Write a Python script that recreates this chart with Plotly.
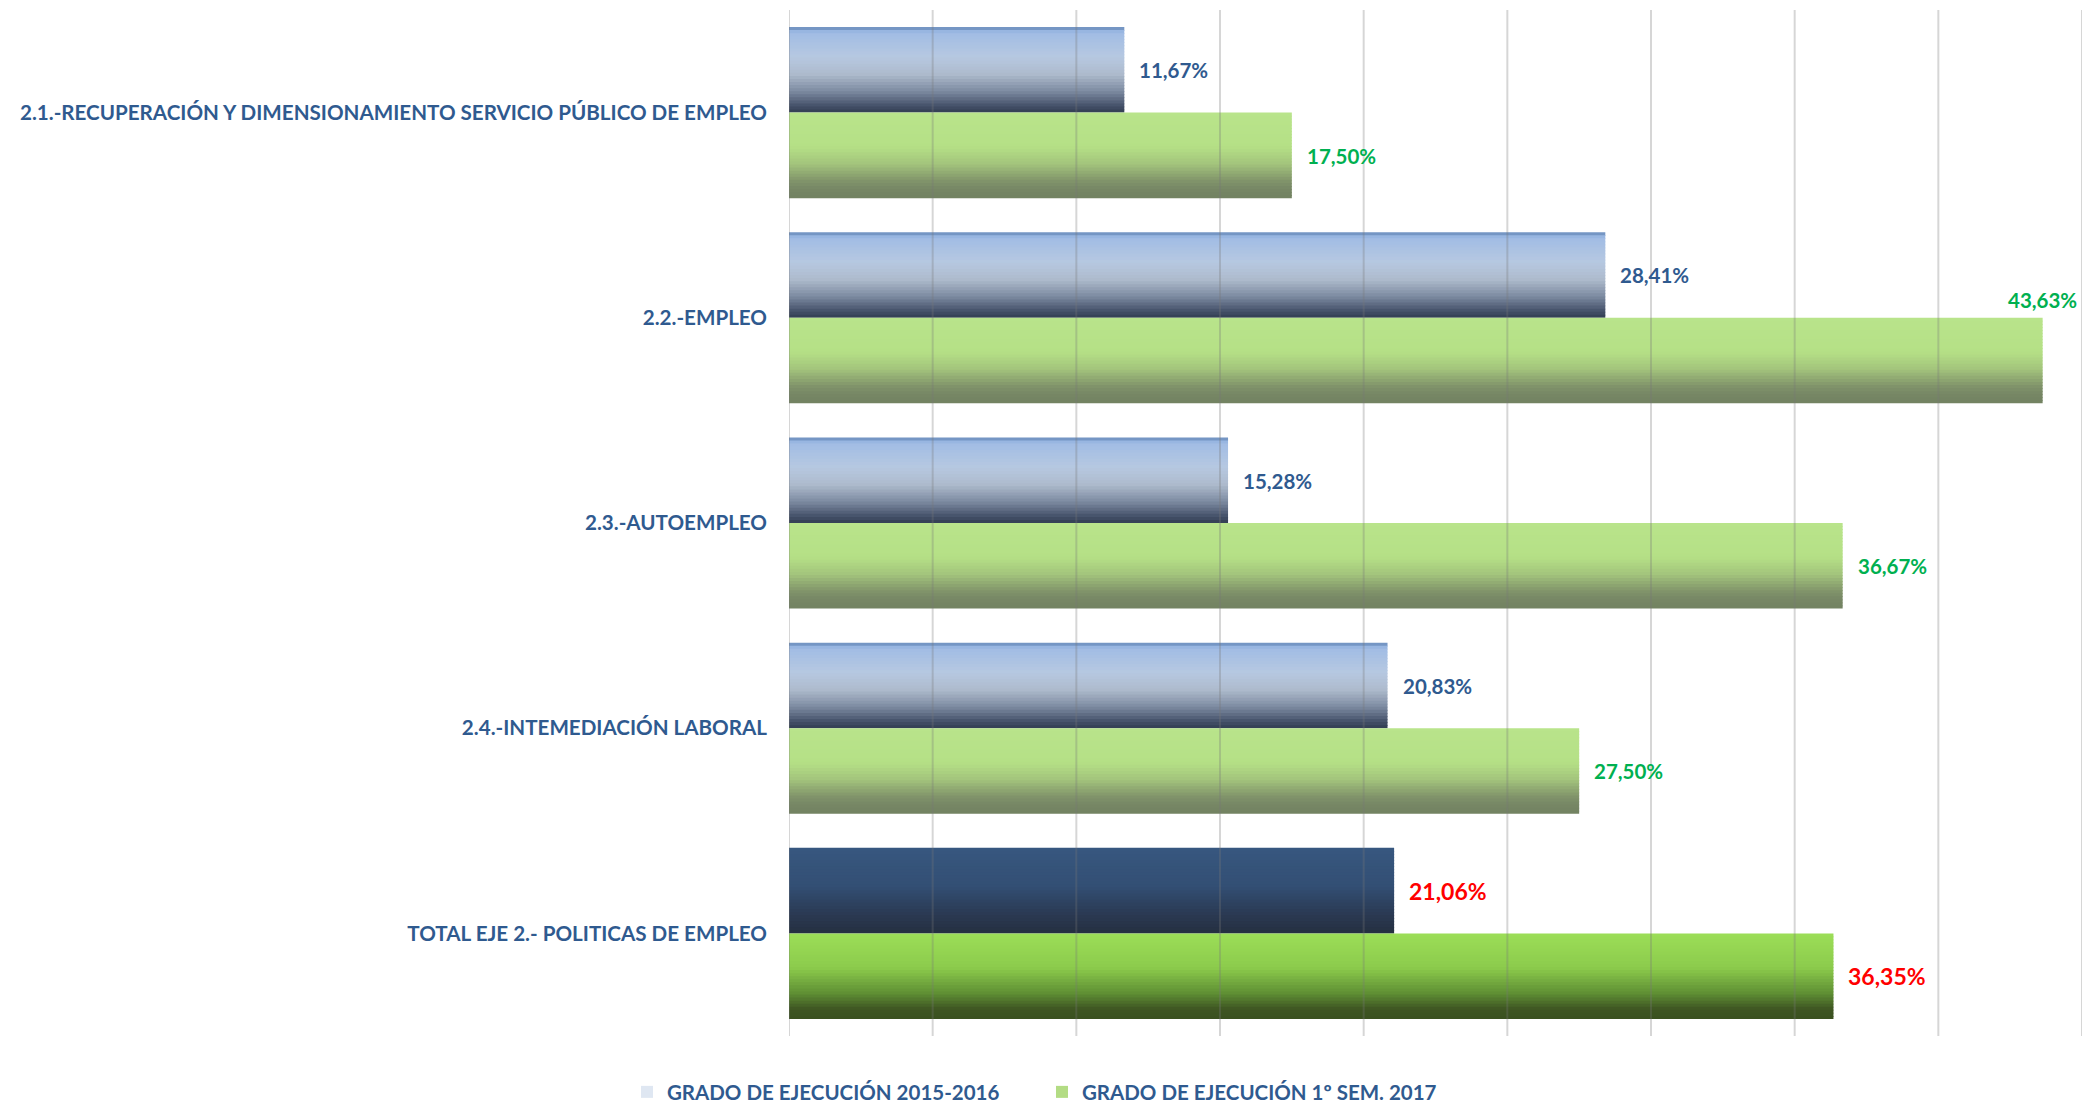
import plotly.graph_objects as go

# ---------------- data ----------------
categories = [
    "2.1.-RECUPERACIÓN Y DIMENSIONAMIENTO SERVICIO PÚBLICO DE EMPLEO",
    "2.2.-EMPLEO",
    "2.3.-AUTOEMPLEO",
    "2.4.-INTEMEDIACIÓN LABORAL",
    "TOTAL EJE 2.- POLITICAS DE EMPLEO",
]
series_names = ["GRADO DE EJECUCIÓN 2015-2016", "GRADO DE EJECUCIÓN 1º SEM. 2017"]
grado_2015_2016 = [11.67, 28.41, 15.28, 20.83, 21.06]
grado_1sem_2017 = [17.50, 43.63, 36.67, 27.50, 36.35]
grid_ticks = [0, 5, 10, 15, 20, 25, 30, 35, 40, 45]

# ---------------- styles ----------------
FONT = "Lato, Carlito, 'Open Sans', sans-serif"
BLUE_TXT = "#2F5A8F"
GREEN_TXT = "#00B050"
RED_TXT = "#FF0000"

# gradient stops (fraction from top of bar, colour)
grad_blue = [(0.0, "#4E6F9E"), (0.03, "#8FB0DE"), (0.08, "#A2BDE4"), (0.35, "#B6C8E1"), (0.55, "#AEBBCD"),
             (0.75, "#7D8BA1"), (0.92, "#45526A"), (1.0, "#323D52")]
grad_green = [(0.0, "#B9E48B"), (0.40, "#B5E086"), (0.60, "#A3C47C"), (0.80, "#80936A"),
              (0.90, "#768664"), (1.0, "#728261")]
grad_blue_total = [(0.0, "#37577F"), (0.45, "#334F74"), (0.75, "#2B3B55"), (1.0, "#252F40")]
grad_green_total = [(0.0, "#9CDE58"), (0.40, "#8CCB4C"), (0.70, "#5F8F34"), (0.88, "#3F5623"), (1.0, "#3A5020")]


def hex2rgb(h):
    h = h.lstrip("#")
    return tuple(int(h[i:i + 2], 16) for i in (0, 2, 4))


def grad_color(stops, f):
    for (f0, c0), (f1, c1) in zip(stops[:-1], stops[1:]):
        if f0 <= f <= f1:
            t = 0 if f1 == f0 else (f - f0) / (f1 - f0)
            a, b = hex2rgb(c0), hex2rgb(c1)
            r = [round(a[k] + (b[k] - a[k]) * t) for k in range(3)]
            return "rgb(%d,%d,%d)" % tuple(r)
    return stops[-1][1]


fig = go.Figure()

BAR_H = 0.417          # height of one bar in category units
N = 28                 # strips used to paint the vertical gradient
strip = BAR_H / N
last = len(categories) - 1

series = [
    (grado_2015_2016, -BAR_H, grad_blue, grad_blue_total),
    (grado_1sem_2017, 0.0, grad_green, grad_green_total),
]
for values, start, g_norm, g_tot in series:
    for i in range(N):
        f = (i + 0.5) / N
        cols = [grad_color(g_tot if k == last else g_norm, f) for k in range(len(categories))]
        w = strip * (1.25 if i < N - 1 else 1.0)
        fig.add_trace(go.Bar(
            y=categories, x=values, orientation="h", base=0,
            offset=start + i * strip, width=w,
            marker=dict(color=cols, line=dict(width=0)),
            showlegend=False, hoverinfo="skip",
        ))

# legend-only entries
fig.add_trace(go.Bar(y=[None], x=[None], orientation="h", name=series_names[0],
                     marker=dict(color="#DFE7F2", line=dict(width=0))))
fig.add_trace(go.Bar(y=[None], x=[None], orientation="h", name=series_names[1],
                     marker=dict(color="#B3DC84", line=dict(width=0))))

# vertical gridlines drawn above the bars
for t in grid_ticks:
    fig.add_shape(type="line", x0=t, x1=t, xref="x", y0=0, y1=1, yref="paper",
                  line=dict(color="rgba(120,120,120,0.30)", width=2), layer="above")


def fmt(v):
    return ("%.2f%%" % v).replace(".", ",")


XMAX = grid_ticks[-1]
for k, cat in enumerate(categories):
    total = k == last
    for values, ysh, col in ((grado_2015_2016, 42.5, BLUE_TXT), (grado_1sem_2017, -43, GREEN_TXT)):
        v = values[k]
        color = RED_TXT if total else col
        size = 23 if total else 20.5
        if v > XMAX - 4:
            fig.add_annotation(x=v, y=cat, text=fmt(v), showarrow=False, xanchor="center",
                               yshift=ysh + 60.5, font=dict(family=FONT, size=size, color=color, weight="bold"))
        else:
            fig.add_annotation(x=v, y=cat, text=fmt(v), showarrow=False, xanchor="left",
                               xshift=13, yshift=ysh, font=dict(family=FONT, size=size, color=color, weight="bold"))

fig.update_layout(
    width=2088, height=1095,
    margin=dict(l=781, r=14, t=2, b=67, autoexpand=False),
    paper_bgcolor="white", plot_bgcolor="white",
    barmode="overlay",
    font=dict(family=FONT, color=BLUE_TXT),
    xaxis=dict(range=[0, XMAX], showticklabels=False, showgrid=False, zeroline=False,
               showline=False, ticks="", automargin=False),
    yaxis=dict(type="category", autorange="reversed", showgrid=False, zeroline=False,
               showline=False, ticks="", ticklabelstandoff=21, automargin=False,
               tickfont=dict(family=FONT, size=20.6, color=BLUE_TXT, weight="bold")),
    showlegend=True,
    legend=dict(orientation="h", xref="container", yref="container", x=0.4952, y=0.010,
                xanchor="center", yanchor="middle",
                font=dict(family=FONT, size=20.5, color=BLUE_TXT, weight="bold"),
                entrywidth=370, entrywidthmode="pixels", itemwidth=30,
                bgcolor="rgba(0,0,0,0)"),
)

fig.write_html("out.html")
